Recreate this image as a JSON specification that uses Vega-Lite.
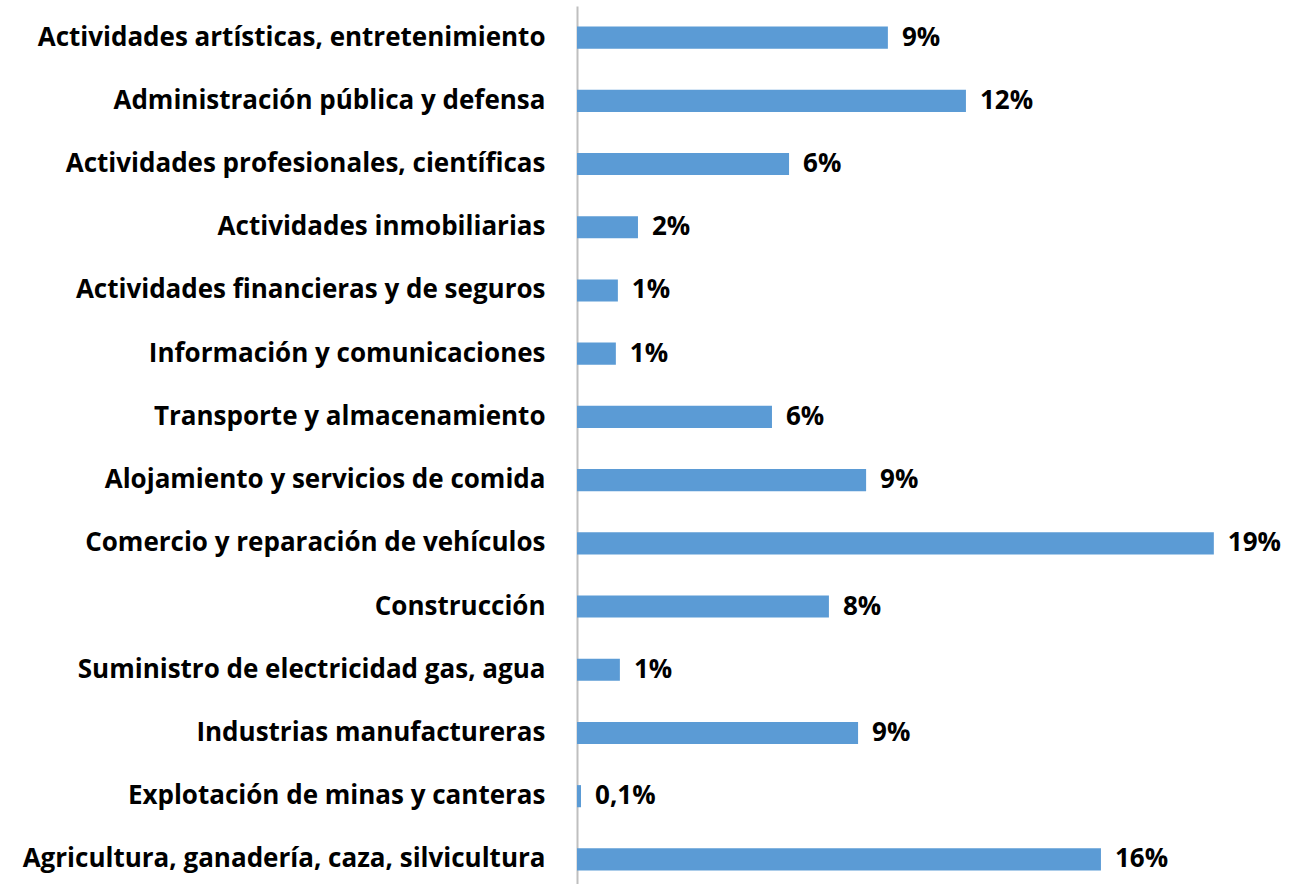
{
  "$schema": "https://vega.github.io/schema/vega-lite/v6.json",
  "autosize": {"type": "none"},
  "width": 716,
  "height": 885,
  "padding": {"left": 577, "top": 6, "right": 0, "bottom": 0},
  "background": "white",
  "config": {"view": {"stroke": null}, "font": "Open Sans"},
  "data": {
    "values": [
      {"sector": "Actividades artísticas, entretenimiento", "value": 9.28, "label": "9%"},
      {"sector": "Administración pública y defensa", "value": 11.61, "label": "12%"},
      {"sector": "Actividades profesionales, científicas", "value": 6.33, "label": "6%"},
      {"sector": "Actividades inmobiliarias", "value": 1.82, "label": "2%"},
      {"sector": "Actividades financieras y de seguros", "value": 1.22, "label": "1%"},
      {"sector": "Información y comunicaciones", "value": 1.16, "label": "1%"},
      {"sector": "Transporte y almacenamiento", "value": 5.82, "label": "6%"},
      {"sector": "Alojamiento y servicios de comida", "value": 8.63, "label": "9%"},
      {"sector": "Comercio y reparación de vehículos", "value": 19.01, "label": "19%"},
      {"sector": "Construcción", "value": 7.52, "label": "8%"},
      {"sector": "Suministro de electricidad gas, agua\u2005", "value": 1.28, "label": "1%"},
      {"sector": "Industrias manufactureras", "value": 8.39, "label": "9%"},
      {"sector": "Explotación de minas y canteras", "value": 0.12, "label": "0,1%"},
      {"sector": "Agricultura, ganadería, caza, silvicultura\u2005", "value": 15.64, "label": "16%"}
    ]
  },
  "encoding": {
    "y": {
      "field": "sector",
      "type": "nominal",
      "sort": null,
      "scale": {"paddingInner": 0.65, "paddingOuter": 0.325},
      "axis": {
        "title": null,
        "ticks": false,
        "domainColor": "#BFBFBF",
        "domainWidth": 2,
        "labelFont": "Open Sans",
        "labelFontWeight": "bold",
        "labelFontSize": 26,
        "labelColor": "#000000",
        "labelPadding": 32,
        "labelLimit": 600
      }
    },
    "x": {
      "field": "value",
      "type": "quantitative",
      "scale": {"domain": [0, 21.373]},
      "axis": null
    }
  },
  "layer": [
    {"mark": {"type": "bar", "color": "#5B9BD5"}},
    {
      "mark": {"type": "text", "align": "left", "baseline": "middle", "dx": 14, "font": "Open Sans", "fontWeight": "bold", "fontSize": 26, "color": "#000000"},
      "encoding": {"text": {"field": "label"}}
    }
  ]
}
